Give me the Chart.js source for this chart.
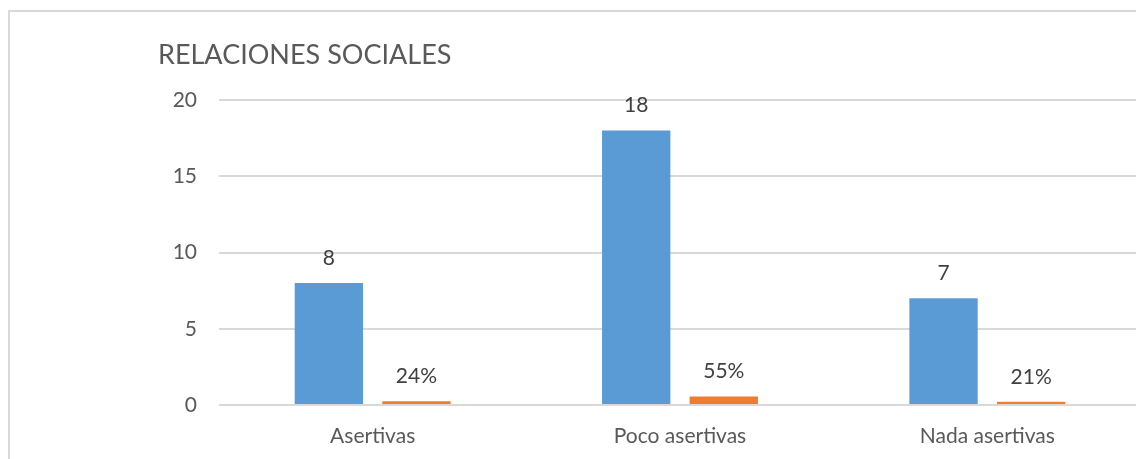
<!DOCTYPE html>
<html>
<head>
<meta charset="utf-8">
<script src="https://cdn.jsdelivr.net/npm/chart.js@4.4.1/dist/chart.umd.min.js"></script>
<style>
  html, body { margin: 0; padding: 0; background: #fff; overflow: hidden; }
  #frame {
    position: absolute; left: 8px; top: 10px;
    width: 1300px; height: 600px;
    border: 2px solid #d9d9d9;
  }
  #wrap { position: absolute; left: 0; top: 0; width: 1160px; height: 459px; }
</style>
</head>
<body>
<div id="frame"></div>
<div id="wrap"><canvas id="chart"></canvas></div>
<script>
// data
const titleText = 'RELACIONES SOCIALES';
const categories = ['Asertivas', 'Poco asertivas', 'Nada asertivas'];
const counts = [8, 18, 7];
const percents = [0.24, 0.55, 0.21];
const percentLabels = ['24%', '55%', '21%'];
const yTicks = [0, 5, 10, 15, 20];

const FONT = 'Lato, "Open Sans", sans-serif';

// draws the title and the value labels above bars
const labelsPlugin = {
  id: 'barLabels',
  afterDatasetsDraw(chart) {
    const ctx = chart.ctx;
    ctx.save();
    ctx.fillStyle = '#404040';
    ctx.font = '21px ' + FONT;
    ctx.textAlign = 'center';
    ctx.textBaseline = 'middle';
    chart.data.datasets.forEach((ds, i) => {
      const meta = chart.getDatasetMeta(i);
      meta.data.forEach((bar, j) => {
        const txt = i === 0 ? String(counts[j]) : percentLabels[j];
        ctx.fillText(txt, bar.x, bar.y - 25);
      });
    });
    // title
    ctx.fillStyle = '#595959';
    ctx.font = '27px ' + FONT;
    ctx.textAlign = 'left';
    ctx.fillText(titleText, 158, 55);
    ctx.restore();
  }
};

const chart = new Chart(document.getElementById('chart'), {
  type: 'bar',
  data: {
    labels: categories,
    datasets: [
      {
        label: 'Cantidad',
        data: counts,
        backgroundColor: '#5b9bd5',
        categoryPercentage: 0.57,
        barPercentage: 0.78
      },
      {
        label: 'Porcentaje',
        data: percents,
        backgroundColor: '#ed7d31',
        categoryPercentage: 0.57,
        barPercentage: 0.78
      }
    ]
  },
  options: {
    responsive: true,
    maintainAspectRatio: false,
    animation: false,
    layout: { padding: { top: 100, right: 19, left: 0, bottom: 0 } },
    plugins: {
      legend: { display: false },
      tooltip: { enabled: false },
      title: { display: false }
    },
    scales: {
      x: {
        grid: { display: false, drawTicks: false },
        border: { display: false },
        ticks: { color: '#595959', font: { family: FONT, size: 21 }, padding: 19 },
        afterFit(scale) { scale.height = 54; }
      },
      y: {
        min: 0,
        max: 20,
        afterBuildTicks(scale) { scale.ticks = yTicks.map(v => ({ value: v })); },
        grid: { color: '#d9d9d9', lineWidth: 2, drawTicks: false },
        border: { display: false },
        ticks: { color: '#595959', font: { family: FONT, size: 21 }, padding: 22 },
        afterFit(scale) { scale.width = 219; }
      }
    }
  },
  plugins: [labelsPlugin]
});
</script>
</body>
</html>
